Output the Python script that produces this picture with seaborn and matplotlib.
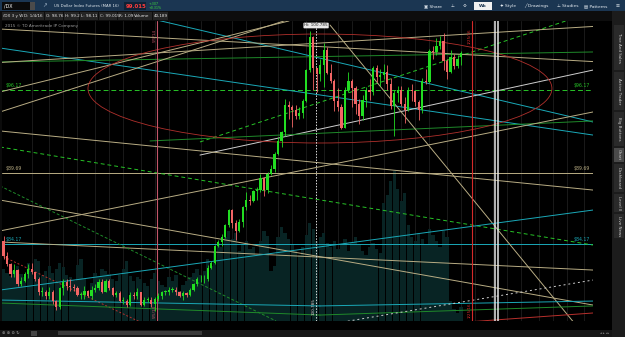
import datetime as dt
import matplotlib
matplotlib.use("Agg")
import matplotlib.pyplot as plt
from matplotlib.patches import Ellipse, Rectangle
import seaborn as sns

sns.set_theme(style="dark")
plt.rcParams['font.family'] = ['DejaVu Sans']

# ---------------- data (weekly /DX bars, first bar = week of 2013-07-08) -------------
BASE = dt.date(2013, 7, 8)
opens = [84.4, 83.2, 82.6, 81.8, 82.1, 81.0, 81.3, 81.8, 82.2, 82.0,
         81.4, 80.4, 80.4, 80.1, 80.4, 79.7, 79.2, 80.7, 81.2, 80.9,
         80.8, 80.7, 80.2, 80.2, 80.5, 80.1, 80.6, 80.7, 81.2, 80.4,
         81.3, 80.7, 80.2, 80.3, 79.7, 79.7, 79.4, 80.2, 80.1, 80.4,
         79.4, 79.8, 79.8, 79.5, 79.9, 80.1, 80.4, 80.4, 80.6, 80.6,
         80.4, 80.1, 80.3, 80.2, 80.6, 81.0, 81.4, 81.4, 81.4, 82.3,
         82.7, 84.0, 84.3, 84.7, 85.6, 86.8, 85.8, 85.2, 85.9, 87.0,
         87.6, 87.5, 88.3, 88.4, 89.3, 88.4, 89.6, 90.0, 91.2, 92.2,
         92.9, 95.0, 94.8, 94.6, 94.1, 94.4, 95.3, 97.7, 100.3, 97.9,
         97.4, 98.1, 99.3, 97.5, 96.9, 95.3, 94.8, 93.2, 96.2, 96.9,
         96.3, 95.1, 94.1, 95.4, 96.2, 96.0, 97.9, 97.2, 97.3, 97.6,
         96.6, 94.9, 95.9, 96.2, 95.1, 94.6, 96.2, 96.1, 95.2, 94.6,
         96.9, 96.8, 99.2, 99.1, 99.6, 100.0, 98.4, 97.6, 98.7, 98.0,
         98.76]
highs = [84.8, 83.5, 82.7, 82.6, 82.2, 81.6, 82.0, 82.6, 82.7, 82.0,
         81.6, 80.8, 80.6, 80.8, 80.6, 79.8, 80.8, 81.4, 81.4, 81.4,
         81.0, 80.9, 80.4, 80.9, 80.6, 80.9, 81.0, 81.4, 81.4, 81.4,
         81.4, 80.8, 80.5, 80.5, 80.0, 79.9, 80.4, 80.4, 80.7, 80.4,
         80.0, 80.0, 80.0, 80.0, 80.3, 80.5, 80.6, 80.8, 80.8, 80.8,
         80.5, 80.5, 80.4, 80.7, 81.1, 81.6, 81.7, 81.7, 82.5, 82.8,
         84.1, 84.5, 84.9, 85.7, 86.9, 86.9, 86.0, 86.1, 87.1, 88.2,
         88.0, 88.4, 88.6, 89.6, 89.4, 89.8, 90.3, 91.3, 92.5, 93.0,
         95.5, 95.3, 95.0, 95.0, 94.8, 95.5, 97.8, 100.785, 100.4, 97.9,
         98.6, 99.8, 99.5, 98.2, 97.0, 96.3, 95.1, 96.4, 97.6, 97.0,
         96.5, 95.5, 95.8, 96.4, 97.0, 98.0, 98.1, 97.8, 98.2, 98.1,
         97.1, 96.2, 96.5, 96.5, 95.6, 96.4, 96.6, 96.1, 95.4, 97.1,
         97.8, 99.4, 99.6, 100.2, 100.4, 100.6, 98.6, 99.3, 99.0, 98.9,
         99.2]
lows = [83.0, 82.4, 81.6, 81.6, 80.9, 80.9, 81.2, 81.5, 81.8, 81.3,
        80.2, 80.1, 79.9, 79.9, 79.5, 79.0, 79.1, 80.2, 80.6, 80.5,
        80.5, 80.1, 79.9, 79.9, 80.0, 79.9, 80.4, 80.6, 80.3, 80.4,
        80.6, 80.1, 80.0, 79.6, 79.5, 79.2, 79.3, 79.9, 79.9, 79.3,
        79.3, 79.6, 79.2, 78.9, 79.7, 79.9, 80.2, 80.2, 80.4, 80.2,
        80.0, 79.8, 80.0, 80.1, 80.5, 80.9, 81.2, 81.1, 81.3, 82.2,
        82.6, 83.9, 84.0, 84.6, 85.5, 85.4, 84.5, 85.1, 85.5, 86.8,
        87.2, 87.4, 87.6, 88.2, 87.9, 88.1, 89.5, 89.8, 91.1, 91.7,
        92.6, 93.9, 93.3, 93.9, 93.9, 94.0, 95.2, 97.6, 96.2, 96.0,
        96.9, 96.4, 97.4, 96.7, 94.5, 94.5, 93.1, 93.2, 96.0, 94.8,
        94.3, 93.5, 93.8, 94.8, 95.4, 95.8, 96.8, 96.5, 97.0, 96.2,
        94.7, 92.6, 95.2, 94.9, 93.6, 94.5, 95.3, 94.9, 93.8, 94.4,
        96.6, 96.7, 98.6, 98.9, 99.4, 97.7, 97.0, 97.5, 97.8, 97.9,
        98.11]
closes = [83.2, 82.6, 81.8, 82.1, 81.0, 81.3, 81.8, 82.2, 82.0, 81.4,
          80.4, 80.4, 80.1, 80.4, 79.7, 79.2, 80.7, 81.2, 80.9, 80.8,
          80.7, 80.2, 80.2, 80.5, 80.1, 80.6, 80.7, 81.2, 80.4, 81.3,
          80.7, 80.2, 80.3, 79.7, 79.7, 79.4, 80.2, 80.1, 80.4, 79.4,
          79.8, 79.8, 79.5, 79.9, 80.1, 80.4, 80.4, 80.6, 80.6, 80.4,
          80.1, 80.3, 80.2, 80.6, 81.0, 81.4, 81.4, 81.4, 82.3, 82.7,
          84.0, 84.3, 84.7, 85.6, 86.8, 85.8, 85.2, 85.9, 87.0, 87.6,
          87.5, 88.3, 88.4, 89.3, 88.4, 89.6, 90.0, 91.2, 92.2, 92.9,
          95.0, 94.8, 94.6, 94.1, 94.4, 95.3, 97.7, 100.3, 97.9, 97.4,
          98.1, 99.3, 97.5, 96.9, 95.3, 94.8, 93.2, 96.2, 96.9, 96.3,
          95.1, 94.1, 95.4, 96.2, 96.0, 97.9, 97.2, 97.3, 97.6, 96.6,
          94.9, 95.9, 96.2, 95.1, 94.6, 96.2, 96.1, 95.2, 94.6, 96.9,
          96.8, 99.2, 99.1, 99.6, 100.0, 98.4, 97.6, 98.7, 98.0, 98.6,
          99.015]
volumes = [52, 48, 45, 50, 55, 47, 44, 58, 50, 62,
           60, 46, 50, 55, 48, 52, 58, 54, 46, 44,
           40, 56, 62, 42, 25, 38, 48, 45, 52, 50,
           47, 42, 40, 46, 52, 60, 45, 40, 44, 42,
           38, 35, 42, 48, 40, 36, 34, 44, 40, 46,
           30, 36, 40, 44, 48, 52, 46, 50, 62, 55,
           70, 78, 74, 84, 90, 82, 88, 70, 76, 80,
           72, 74, 66, 80, 90, 85, 50, 55, 84, 94,
           88, 82, 76, 70, 66, 74, 86, 98, 92, 80,
           84, 88, 78, 74, 80, 72, 76, 82, 70, 78,
           84, 76, 70, 66, 74, 78, 72, 68, 118, 126,
           140, 150, 132, 120, 128, 96, 84, 80, 88, 82,
           76, 92, 86, 80, 74, 90, 84, 20, 12, 8,
           14]

# price levels
level_prices = [96.17, 89.69, 84.17]
level_labels = ["$96.17", "$89.69", "$84.17"]

# trendlines: (week0, price0, week1, price1)
tl_w0 = [43.61, -0.99, 55.82, 55.82, -0.99, -0.99, 41.62, -0.99, -0.99, -0.99,
         -0.99, -0.99, -0.99, -0.99, -0.99, 92.76, -0.99, -0.99, -0.99, 89.91,
         -0.99, 89.91, 131.68, 96.45, -0.99]
tl_p0 = [101.62, 99.44, 91.09, 92.11, 91.72, 98.35, 92.19, 100.92, 98.31, 96.01,
         94.45, 85.17, 92.97, 87.58, 84.31, 101.23, 83.29, 88.68, 79.78, 79.32,
         79.55, 78.61, 78.07, 78.07, 80.56]
tl_w1 = [167.47, 167.47, 167.47, 167.47, 167.47, 167.47, 167.47, 167.47, 167.47, 81.11,
         79.69, 167.47, 167.47, 167.47, 167.47, 163.78, 38.78, 77.41, 89.91, 167.47,
         89.91, 167.47, 167.47, 167.47, 167.47]
tl_p1 = [93.67, 92.65, 97.72, 102.25, 84.07, 99.13, 93.75, 98.38, 101.12, 101.55,
         101.55, 94.45, 88.36, 79.39, 82.12, 77.44, 78.07, 78.15, 79.32, 79.70,
         78.61, 79.32, 78.77, 81.34, 86.80]

CY, TN, GD, GS, WH, RD = "#1aa9b8", "#b9ad84", "#27c427", "#1f8a2a", "#cfcfcf", "#b8302c"
tl_col = [CY, CY, WH, GD, GD, GS, GS, TN, TN, TN,
          TN, TN, TN, TN, TN, TN, RD, GS, CY, CY,
          GS, GS, RD, WH, CY]
tl_ls = ['-', '-', '-', (0, (4, 3)), (0, (4, 3)), '-', '-', '-', '-', '-',
         '-', '-', '-', '-', '-', '-', (0, (2, 2)), (0, (3, 2)), '-', '-',
         '-', '-', '-', (0, (2, 3)), '-']

# ---------------- figure ----------------
W, H = 625, 337
fig = plt.figure(figsize=(W / 100, H / 100), dpi=100, facecolor="#0b0b0b")


def fx(x):
    return x / W


def fy(y):
    return 1 - y / H


def frect(x0, y0, x1, y1, color, z=0, ec='none', lw=0):
    fig.patches.append(Rectangle((fx(x0), fy(y1)), (x1 - x0) / W, (y1 - y0) / H,
                                 transform=fig.transFigure, facecolor=color,
                                 edgecolor=ec, linewidth=lw, zorder=z))


def ftext(x, y, s, **kw):
    kw.setdefault('va', 'center')
    fig.text(fx(x), fy(y), s, **kw)


PL, PR, PT, PB = 2, 593, 21, 321
rect = [fx(PL), fy(PB), (PR - PL) / W, (PB - PT) / H]
XMIN, XMAX = (PL - 3.5) / 3.52, (PR - 3.5) / 3.52
YMIN, YMAX = 101 - (PB - 28) / 12.82, 101 - (PT - 28) / 12.82

# volume axis (behind)
axv = fig.add_axes(rect, facecolor="black")
axv.set_xlim(XMIN, XMAX)
axv.set_ylim(0, PB - PT)
nb = len(closes)
weeks = list(range(nb))
dates = [BASE + dt.timedelta(weeks=i) for i in range(170)]
month_pos, month_lab = [], []
for i in range(1, 168):
    if dates[i].month != dates[i - 1].month and i >= 8:
        month_pos.append(i)
        month_lab.append(f"{dates[i].year % 100:02d}" if dates[i].month == 1 else dates[i].strftime('%b'))
for mp in month_pos:
    axv.axvline(mp, color="#1f1f1f", lw=0.6, zorder=0)
axv.bar(weeks, volumes, width=0.92, color="#082424", zorder=1, linewidth=0)
axv.set_xticks([]); axv.set_yticks([])
for s in axv.spines.values():
    s.set_visible(False)

# price axis
ax = fig.add_axes(rect, facecolor="none")
ax.set_xlim(XMIN, XMAX)
ax.set_ylim(YMIN, YMAX)
ax.set_xticks([]); ax.set_yticks([])
for s in ax.spines.values():
    s.set_visible(False)
ax.grid(False)

# level lines
ax.axhline(level_prices[0], color=GD, lw=0.7, ls=(0, (5, 3)), zorder=2)
ax.axhline(level_prices[1], color=TN, lw=0.7, zorder=2)
ax.axhline(level_prices[2], color=CY, lw=0.7, zorder=2)
lvl_col = [GD, TN, CY]
for p, lab, c in zip(level_prices, level_labels, lvl_col):
    ax.text(XMAX - 1.0, p + 0.12, lab, color=c, fontsize=3.3, ha='right', va='bottom', zorder=6)
    ax.text(XMIN + 0.9, p + 0.12, lab, color=c, fontsize=3.3, ha='left', va='bottom', zorder=6)

# trendlines
for w0, p0, w1, p1, c, ls in zip(tl_w0, tl_p0, tl_w1, tl_p1, tl_col, tl_ls):
    sns.lineplot(x=[w0, w1], y=[p0, p1], ax=ax, color=c, lw=0.7, linestyle=ls, zorder=2)

# ellipse
ax.add_patch(Ellipse((89.9, 96.28), width=131.8, height=8.5, fill=False,
                     edgecolor="#b0302c", lw=0.6, zorder=2))

# vertical markers
ax.axvline(43.6, color="#c4566a", lw=0.8, zorder=2)
ax.axvline(133.1, color="#d42a2a", lw=0.8, zorder=2)
ax.axvline(139.5, color="#e6e6e6", lw=1.1, zorder=2)
ax.axvline(140.6, color="#e6e6e6", lw=1.1, zorder=2)
ax.axvline(88.8, color="#dddddd", lw=0.7, ls=(0, (1.5, 1.5)), zorder=2)

# candles
UP, DN = "#22dd22", "#f26565"
for i in weeks:
    o, h, l, c = opens[i], highs[i], lows[i], closes[i]
    col = UP if c >= o else DN
    ax.vlines(i, l, h, color=col, lw=0.6, zorder=4)
    body = max(abs(c - o), 0.06)
    ax.bar(i, body, bottom=min(o, c), width=0.62, color=col, linewidth=0, zorder=5)

# price labels on right
for p in range(79, 102):
    if p == 99:
        continue
    ax.text(1.007, p, str(p), transform=ax.get_yaxis_transform(), color="#9c9c9c",
            fontsize=3.4, ha='left', va='center')
ax.text(1.004, 99.015, "99.015", transform=ax.get_yaxis_transform(), color="white",
        fontsize=3.3, ha='left', va='center', fontweight='bold',
        bbox=dict(boxstyle='square,pad=0.15', fc="#2fbf2f", ec='none'))

# date labels
for mp, lab in zip(month_pos, month_lab):
    ax.text(mp - 0.5, -0.018, lab, transform=ax.get_xaxis_transform(), color="#9c9c9c",
            fontsize=3.4, ha='left', va='center')

# annotations
ax.text(88.8, 0.985, "Hi: 100.785", transform=ax.get_xaxis_transform(), fontsize=3.0,
        color="#222222", ha='center', va='center',
        bbox=dict(boxstyle='round,pad=0.2', fc="#e8e8e8", ec='none'), zorder=7)
ax.text(133.1, 0.975, "1/25/16", transform=ax.get_xaxis_transform(), rotation=90,
        fontsize=3.0, color="#d42a2a", ha='right', va='top')
ax.text(133.1, 0.01, "1/25/16", transform=ax.get_xaxis_transform(), rotation=90,
        fontsize=3.0, color="#d42a2a", ha='right', va='bottom')
ax.text(43.6, 0.975, "5/5/14", transform=ax.get_xaxis_transform(), rotation=90,
        fontsize=3.0, color="#c4566a", ha='right', va='top')
ax.text(43.6, 0.01, "5/5/14", transform=ax.get_xaxis_transform(), rotation=90,
        fontsize=3.0, color="#c4566a", ha='right', va='bottom')
ax.text(88.8, 0.02, "100.785", transform=ax.get_xaxis_transform(), rotation=90,
        fontsize=3.0, color="#dddddd", ha='right', va='bottom')
ax.text(0.005, 0.985, "2015 \u00a9 TD Ameritrade IP Company", transform=ax.transAxes,
        fontsize=3.0, color="#9a9a9a", ha='left', va='center')

# ---------------- chrome ----------------
frect(0, 0, 625, 11, "#1b3652")
frect(0, 11, 625, 21, "#0d0d0d")
frect(2, 2, 30, 10, "#0a0a0a", z=1)
frect(30, 2, 35, 10, "#4b4b4b", z=1)
ftext(4, 6, "/DX", color="white", fontsize=3.4)
ftext(42, 6, "\u2197", color="#9fb4c8", fontsize=4)
ftext(54, 6, "US Dollar Index Futures (MAR 16)", color="#dde4ea", fontsize=2.8)
frect(124, 2, 146, 10, "#0f2236", z=1)
ftext(126, 6, "99.015", color="#ff3d3d", fontsize=3.9, fontweight='bold')
ftext(148.5, 4.2, "+.307", color="#3ddc3d", fontsize=2.3)
ftext(148.5, 8.2, "+0.31%", color="#3ddc3d", fontsize=2.3)
for x, s in [(424, "\u25a3 Share"), (451, "\u22a5"), (463, "\u2699"), (500, "\u2726 Style"),
             (524, "\u2571 Drawings"), (557, "\u22a5 Studies"), (584, "\u25a4 Patterns"), (616, "\u2630")]:
    ftext(x, 6, s, color="#e6ecf2", fontsize=3.2)
frect(474, 2.5, 492, 9.5, "#f0f0f0", z=1)
ftext(483, 6, "Wk", color="#1b3652", fontsize=3.2, ha='center', fontweight='bold')

boxes = [(2, 22, "/DX 3 y W"), (23, 44, "D: 1/4/16"), (45, 63, "O: 98.76"), (64, 79, "H: 99.2"),
         (80, 98, "L: 98.11"), (99, 117, "C: 99.015"), (118, 132, "R: 1.09"),
         (133, 152, "Volume"), (153, 168, "40,189")]
for x0, x1, s in boxes:
    frect(x0, 12.5, x1, 19.5, "#242424", z=1)
    ftext(x0 + 1.2, 16, s, color="#e4e4e4", fontsize=3.0)

# price scale & right strip
frect(593, 21, 612, 321, "#000000")
frect(612, 11, 625, 337, "#1c1c1c")
tabs = [(25, 70, "Time And Sales"), (72, 110, "Active Trader"), (112, 146, "Big Buttons"),
        (148, 162, "Chart"), (164, 192, "Dashboard"), (194, 212, "Level II"), (214, 238, "Live News")]
for y0, y1, s in tabs:
    frect(614, y0, 624, y1, "#4a4a4a" if s == "Chart" else "#2a2a2a", z=1)
    ftext(619, (y0 + y1) / 2, s, color="#cfcfcf", fontsize=2.9, rotation=270, ha='center')

# bottom rows
frect(0, 321, 612, 330, "#000000")
frect(0, 330, 612, 337, "#161616")
frect(58, 331, 202, 335, "#3a3a3a", z=1)
ftext(2, 333.5, "\u2295 \u2295 \u2296 \u21bb", color="#9a9a9a", fontsize=3)
frect(31, 331, 37, 336, "#444444", z=1)
ftext(600, 333.5, "\u25c2 \u25b8 \u25c2\u25b8", color="#9a9a9a", fontsize=2.5)

fig.savefig("out.png", dpi=100, facecolor=fig.get_facecolor())
